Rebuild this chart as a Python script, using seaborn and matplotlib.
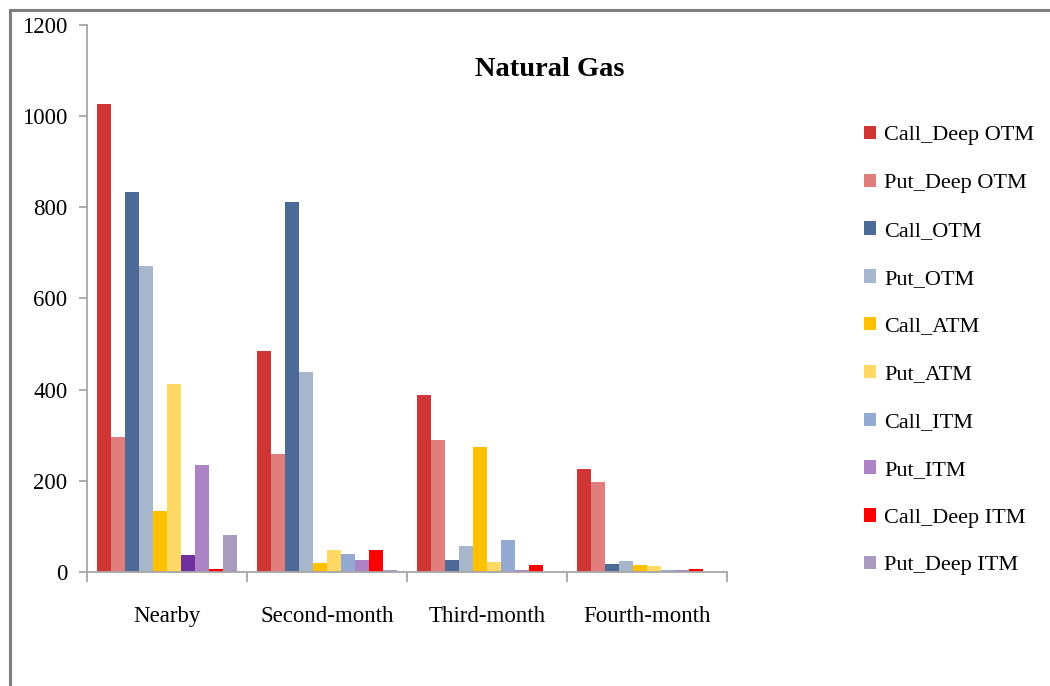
import matplotlib
matplotlib.use("Agg")
import matplotlib.pyplot as plt
import seaborn as sns
import pandas as pd
from matplotlib.patches import Rectangle

categories = ["Nearby", "Second-month", "Third-month", "Fourth-month"]
series = ["Call_Deep OTM", "Put_Deep OTM", "Call_OTM", "Put_OTM", "Call_ATM",
          "Put_ATM", "Call_ITM", "Put_ITM", "Call_Deep ITM", "Put_Deep ITM"]

call_deep_otm = [1025, 485, 388, 227]
put_deep_otm = [296, 259, 290, 197]
call_otm = [832, 811, 28, 19]
put_otm = [672, 438, 57, 24]
call_atm = [134, 20, 274, 16]
put_atm = [412, 48, 23, 13]
call_itm = [38, 40, 70, 4]
put_itm = [236, 28, 4, 4]
call_deep_itm = [8, 48, 16, 7]
put_deep_itm = [82, 5, 1, 0]

colors = ["#D03536", "#E07E7E", "#4B6B96", "#A6B7CD", "#FFC000",
          "#FFD966", "#95AAD2", "#AB83C6", "#FF0000", "#A99BBE"]
nearby_call_itm_color = "#7030A0"

values = [call_deep_otm, put_deep_otm, call_otm, put_otm, call_atm,
          put_atm, call_itm, put_itm, call_deep_itm, put_deep_itm]
rows = []
for s, vals in zip(series, values):
    for c, v in zip(categories, vals):
        rows.append({"Month": c, "Series": s, "Value": v})
df = pd.DataFrame(rows)

sns.set_theme(style="white")
plt.rcParams["font.family"] = ["Liberation Serif", "DejaVu Serif"]
plt.rcParams["text.color"] = "black"
plt.rcParams["xtick.labelcolor"] = "black"
plt.rcParams["ytick.labelcolor"] = "black"

fig = plt.figure(figsize=(10.5, 6.86), dpi=100)
ax = fig.add_axes([87 / 1050, 1 - 572.3 / 686, 640 / 1050, (572.3 - 24.5) / 686])

sns.barplot(data=df, x="Month", y="Value", hue="Series", order=categories,
            hue_order=series, palette=colors, width=0.875, saturation=1,
            edgecolor="none", linewidth=0, ax=ax, legend=True)

# special colour for the Nearby Call_ITM bar
idx = series.index("Call_ITM")
cont = ax.containers[idx]
cont.patches[0].set_facecolor(nearby_call_itm_color)

ax.set_xlim(-0.5, 3.5)
ax.set_ylim(0, 1200)
ax.set_yticks([0, 200, 400, 600, 800, 1000, 1200])
ax.set_xlabel("")
ax.set_ylabel("")
ax.set_xticks([0, 1, 2, 3])
ax.set_xticklabels(categories)
ax.set_xticks([-0.5, 0.5, 1.5, 2.5, 3.5], minor=True)
ax.tick_params(axis="x", which="major", length=0, pad=24, labelsize=16.5,
               labelcolor="black")
ax.tick_params(axis="x", which="minor", length=7, width=1.2, color="#A0A0A0",
               direction="out", bottom=True)
ax.tick_params(axis="y", which="major", length=6, width=1.2, color="#A0A0A0",
               direction="out", left=True, pad=8, labelsize=16.5,
               labelcolor="black")
for sp in ["top", "right"]:
    ax.spines[sp].set_visible(False)
for sp in ["left", "bottom"]:
    ax.spines[sp].set_color("#A6A6A6")
    ax.spines[sp].set_linewidth(1.3)

ax.text(550 / 1050, 1 - 69 / 686, "Natural Gas", transform=fig.transFigure,
        ha="center", va="center", fontsize=20.5, fontweight="bold",
        color="black")

handles, labels = ax.get_legend_handles_labels()
ax.legend_.remove()
leg = fig.legend(handles, labels, loc="upper left",
                 bbox_to_anchor=(855 / 1050, 1 - 117 / 686),
                 frameon=False, fontsize=16, handlelength=0.55, handleheight=0.55,
                 handletextpad=0.35, labelspacing=1.27, borderaxespad=0,
                 labelcolor="black")

# outer frame
fig.patches.append(Rectangle((9.5 / 1050, -0.1), 1.2, 1 - 9.5 / 686 + 0.1,
                             transform=fig.transFigure, fill=False,
                             edgecolor="#7F7F7F", linewidth=2.2))

fig.savefig("out.png", dpi=100)
